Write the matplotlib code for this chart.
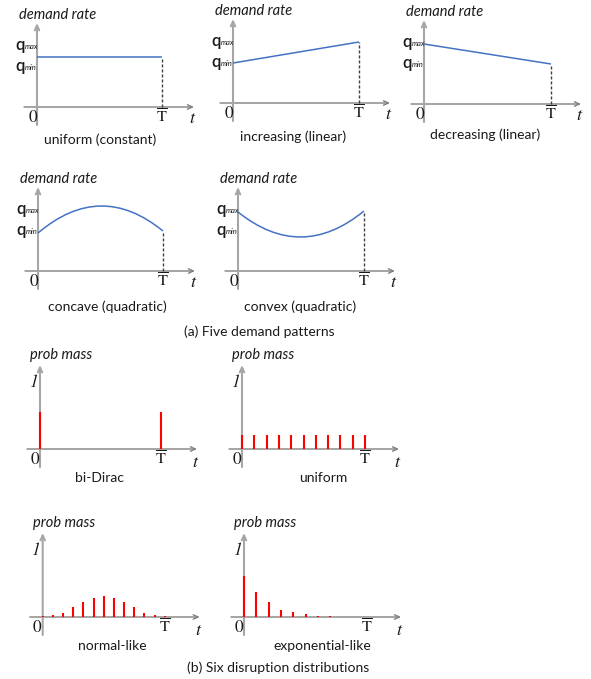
import matplotlib
matplotlib.use('Agg')
import matplotlib.pyplot as plt
from matplotlib.path import Path
from matplotlib.patches import PathPatch

plt.rcParams['mathtext.fontset'] = 'stix'

# ---------------- data ----------------
# demand rate levels (T-bar = 1)
uniform_q = [0.50, 0.50]          # at t=0, t=T
increasing_q = [0.40, 0.61]
decreasing_q = [0.60, 0.40]
concave_q = [0.38, 0.65, 0.40]    # at t=0, T/2, T
convex_q = [0.59, 0.34, 0.60]
q_min_level = 0.40
q_max_level = 0.61
demand_captions = ['uniform (constant)', 'increasing (linear)', 'decreasing (linear)',
                   'concave (quadratic)', 'convex (quadratic)']

# disruption distributions (probability mass)
bidirac_t = [0.0, 1.0]
bidirac_p = [0.55, 0.55]
unif_t = [0.0, 0.1, 0.2, 0.3, 0.4, 0.5, 0.6, 0.7, 0.8, 0.9, 1.0]
unif_p = [0.21, 0.21, 0.21, 0.21, 0.21, 0.21, 0.21, 0.21, 0.21, 0.21, 0.21]
normal_t = [0.0, 0.083, 0.167, 0.25, 0.333, 0.417, 0.5, 0.583, 0.667, 0.75, 0.833, 0.917, 1.0]
normal_p = [0.015, 0.035, 0.06, 0.15, 0.22, 0.28, 0.31, 0.28, 0.22, 0.15, 0.06, 0.035, 0.01]
exp_t = [0.0, 0.1, 0.2, 0.3, 0.4, 0.5, 0.6, 0.7]
exp_p = [0.61, 0.37, 0.23, 0.11, 0.07, 0.04, 0.02, 0.01]
prob_captions = ['bi-Dirac', 'uniform', 'normal-like', 'exponential-like']

section_a = '(a) Five demand patterns'
section_b = '(b) Six disruption distributions'

# ---------------- layout ----------------
W, H = 591, 679
fig = plt.figure(figsize=(W / 100, H / 100), dpi=100)
L, R, B, TP = 20, 170, 45, 100

BLUE = '#4472C4'
RED = '#FF0000'
XAX = '#808080'
YAX = '#A6A6A6'
TXT = '#1a1a1a'
SANS = 'Lato'
SERIF = 'STIXGeneral'


class Panel:
    def __init__(self, x0, y0, tpx, sy):
        self.sx, self.sy = tpx, sy
        self.ax = fig.add_axes([(x0 - L) / W, (H - (y0 + B)) / H, (L + R) / W, (B + TP) / H])
        self.ax.set_xlim(-L / tpx, R / tpx)
        self.ax.set_ylim(-B / sy, TP / sy)
        self.ax.axis('off')
        self.ax.patch.set_visible(False)

    def text(self, dx, dy, s, **kw):
        # dx, dy in pixels relative to origin (dy downward)
        kw.setdefault('color', TXT)
        self.ax.text(dx / self.sx, -dy / self.sy, s, clip_on=False, **kw)

    def axes_arrows(self):
        ap = dict(arrowstyle='->,head_length=0.35,head_width=0.16', shrinkA=0, shrinkB=0)
        self.ax.annotate('', xy=(157 / self.sx, 0), xytext=(-13 / self.sx, 0),
                         arrowprops=dict(color=XAX, lw=1.0, **ap), zorder=1)
        self.ax.annotate('', xy=(0, 84 / self.sy), xytext=(0, -18 / self.sy),
                         arrowprops=dict(color=YAX, lw=1.5, **ap), zorder=1)

    def common_labels(self, title, caption, cap_dx, cap_dy, title_dy, zero_dx, zero_dy, t_dy):
        self.text(21, title_dy, title, ha='center', va='center', fontsize=10.5,
                  family=SANS, style='italic')
        self.text(cap_dx, cap_dy, caption, ha='center', va='center', fontsize=10, family=SANS)
        self.text(zero_dx, zero_dy, '0', ha='center', va='center', fontsize=12.5, family=SERIF)
        self.text(self.sx, zero_dy - 1, r'$\overline{\mathrm{T}}$', ha='center', va='center',
                  fontsize=11.5)
        self.text(155, t_dy, 't', ha='center', va='center', fontsize=13, family=SERIF,
                  style='italic')


def qlabel(p, level, sub):
    p.ax.text(-12 / p.sx, level - 4 / p.sy, 'q', ha='right', va='baseline', fontsize=12,
              family=SANS, fontweight='semibold', color=TXT)
    p.ax.text(-12 / p.sx, level - 3 / p.sy, sub, ha='left', va='baseline', fontsize=5.5,
              family=SANS, style='italic', color=TXT)


# demand panels: origin x, origin y, T pixel length, caption offsets
demand_layout = [
    (37, 107, 125, 63, 33),
    (233, 103, 126, 60, 34),
    (424, 104, 127, 61, 31),
    (38, 271, 125, 69, 36),
    (238, 271, 126, 62, 36),
]
demand_series = [uniform_q, increasing_q, decreasing_q, concave_q, convex_q]

for (x0, y0, tpx, cdx, cdy), q, cap in zip(demand_layout, demand_series, demand_captions):
    p = Panel(x0, y0, tpx, 100.0)
    p.axes_arrows()
    if len(q) == 2:
        p.ax.plot([0, 1], q, color=BLUE, lw=1.1, solid_capstyle='butt', zorder=3)
        end = q[-1]
    else:
        start, mid, end = q
        ctrl = 2 * mid - (start + end) / 2
        path = Path([(0, start), (0.5, ctrl), (1, end)], [Path.MOVETO, Path.CURVE3, Path.CURVE3])
        p.ax.add_patch(PathPatch(path, fill=False, edgecolor=BLUE, lw=1.1, zorder=3))
    p.ax.plot([1, 1], [0, end], color='#404040', lw=1.0, ls=(0, (2.2, 1.4)), zorder=2)
    qlabel(p, q_max_level, 'max')
    qlabel(p, q_min_level, 'min')
    p.common_labels('demand rate', cap, cdx, cdy, -92, -4.5, 11, 12)

# probability panels
prob_layout = [
    (40, 449, 121, 59, 29),
    (242, 449, 123, 81, 29),
    (42.7, 617, 122, 70, 29),
    (244, 617, 123, 78, 29),
]
prob_series = [(bidirac_t, bidirac_p), (unif_t, unif_p), (normal_t, normal_p), (exp_t, exp_p)]

for (x0, y0, tpx, cdx, cdy), (tt, pp), cap in zip(prob_layout, prob_series, prob_captions):
    p = Panel(x0, y0, tpx, 66.5)
    p.axes_arrows()
    p.ax.vlines(tt, 0, pp, color=RED, lw=1.5, zorder=5)
    p.ax.text(-7 / p.sx, 1.0, '1', ha='center', va='center', fontsize=12.5, family=SERIF,
              style='italic', color=TXT)
    p.common_labels('prob mass', cap, cdx, cdy, -94, -5.5, 11, 14)

fig.text(259 / W, 1 - 332 / H, section_a, ha='center', va='center', fontsize=10,
         family=SANS, color=TXT)
fig.text(278 / W, 1 - 668 / H, section_b, ha='center', va='center', fontsize=10,
         family=SANS, color=TXT)

fig.savefig('out.png', dpi=100, facecolor='white')
